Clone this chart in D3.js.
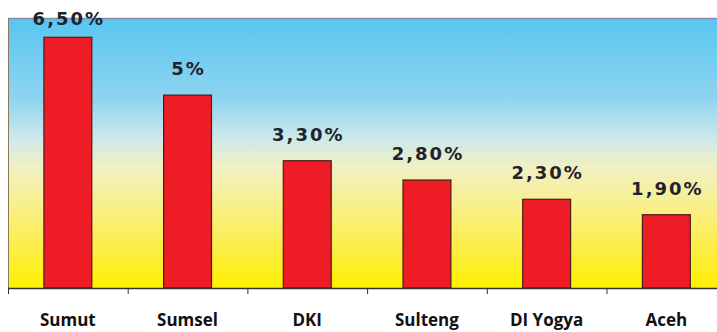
<!DOCTYPE html>
<html>
<head>
<meta charset="utf-8">
<script src="https://cdn.jsdelivr.net/npm/d3@7"></script>
<style>
	body { margin: 0; background: #fff; }
	svg { display: block; }
</style>
</head>
<body>
<div class="chart"></div>
<script>
var regions = ["Sumut", "Sumsel", "DKI", "Sulteng", "DI Yogya", "Aceh"];
var values = [6.5, 5, 3.3, 2.8, 2.3, 1.9];
var valueLabels = ["6,50%", "5%", "3,30%", "2,80%", "2,30%", "1,90%"];

var width = 717, height = 332;
var left = 8, top_ = 18, bottom = 288, step = 119.7;

var svg = d3.select(".chart").append("svg")
	.attr("width", width)
	.attr("height", height);

var defs = svg.append("defs");
var grad = defs.append("linearGradient")
	.attr("id", "bg")
	.attr("x1", 0).attr("y1", 0)
	.attr("x2", 0).attr("y2", 1);
[[0, "#57c6f1"], [0.3, "#8fd4f0"], [0.45, "#cfe9ea"], [0.55, "#f0f0c4"], [0.7, "#f9ef8a"], [0.88, "#fdee3a"], [1, "#fff000"]]
	.map(function(s) {
		grad.append("stop").attr("offset", s[0]).attr("stop-color", s[1]);
	});

var x = d3.scaleBand()
	.domain(regions)
	.range([left, left + step * regions.length])
	.padding(0);

var y = d3.scaleLinear()
	.domain([0, 7])
	.range([bottom, top_]);

//background of the plot area
svg.append("rect")
	.attr("x", left)
	.attr("y", top_)
	.attr("width", width - left)
	.attr("height", bottom - top_)
	.attr("fill", "url(#bg)");

svg.append("line")
	.attr("x1", left).attr("x2", width)
	.attr("y1", top_ + 0.5).attr("y2", top_ + 0.5)
	.attr("stroke", "#8c8ca6")
	.attr("stroke-width", 1.5);

svg.append("line")
	.attr("x1", left + 0.5).attr("x2", left + 0.5)
	.attr("y1", top_).attr("y2", bottom)
	.attr("stroke", "#8a7a5a")
	.attr("stroke-width", 1);

var barW = x.bandwidth() * 0.4;

svg.selectAll(".bar")
	.data(values)
	.enter().append("rect")
	.attr("class", "bar")
	.attr("x", function(d, i) { return x(regions[i]) + (x.bandwidth() - barW) / 2; })
	.attr("y", function(d) { return y(d); })
	.attr("width", barW)
	.attr("height", function(d) { return y(0) - y(d); })
	.attr("fill", "#ee1c25")
	.attr("stroke", "#4a1c1c")
	.attr("stroke-width", 1.2);

svg.selectAll(".val")
	.data(values)
	.enter().append("text")
	.attr("class", "val")
	.attr("x", function(d, i) { return x(regions[i]) + x.bandwidth() / 2 + 1; })
	.attr("y", function(d) { return Math.max(y(d) - 20, 25); })
	.attr("text-anchor", "middle")
	.attr("font-family", "DejaVu Sans")
	.attr("font-weight", "bold")
	.attr("font-size", 18)
	.attr("letter-spacing", 2)
	.attr("fill", "#22222a")
	.text(function(d, i) { return valueLabels[i]; });

//x axis with ticks between the bands
var axis = svg.append("g").attr("transform", "translate(0," + bottom + ")");
axis.append("line")
	.attr("x1", left).attr("x2", width)
	.attr("y1", 0.5).attr("y2", 0.5)
	.attr("stroke", "#333")
	.attr("stroke-width", 1.5);
axis.selectAll(".tick")
	.data(regions)
	.enter().append("line")
	.attr("x1", function(d) { return x(d) + 0.5; })
	.attr("x2", function(d) { return x(d) + 0.5; })
	.attr("y1", 0).attr("y2", 6)
	.attr("stroke", "#333");
axis.selectAll(".cat")
	.data(regions)
	.enter().append("text")
	.attr("x", function(d) { return x(d) + x.bandwidth() / 2; })
	.attr("y", 38)
	.attr("text-anchor", "middle")
	.attr("font-family", "Open Sans")
	.attr("font-weight", "bold")
	.attr("font-size", 17)
	.attr("fill", "#111")
	.text(function(d) { return d; });
</script>
</body>
</html>
